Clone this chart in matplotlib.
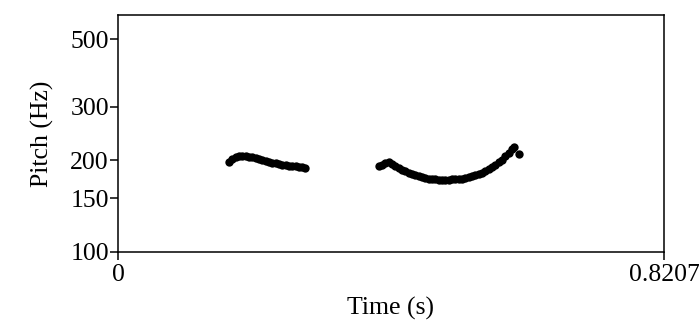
import matplotlib.pyplot as plt
from matplotlib.ticker import FixedLocator, NullLocator

# pitch track, two voiced stretches (time in s, F0 in Hz)
t1 = [0.167, 0.172, 0.177, 0.182, 0.187, 0.192, 0.197, 0.202, 0.207, 0.212,
      0.217, 0.222, 0.227, 0.232, 0.237, 0.242, 0.247, 0.252, 0.257, 0.262,
      0.267, 0.272, 0.277, 0.281]
f1 = [197, 202, 205, 207, 207, 206, 205, 204.5, 203.5, 202,
      200.5, 199, 197.5, 196.5, 195.5, 194.5, 193.5, 192.5, 192, 191.5,
      191, 190.5, 190, 189]

t2 = [0.392, 0.397, 0.402, 0.407, 0.412, 0.417, 0.422, 0.427, 0.432, 0.437,
      0.442, 0.447, 0.452, 0.457, 0.462, 0.467, 0.472, 0.477, 0.482, 0.487,
      0.492, 0.497, 0.502, 0.507, 0.512, 0.517, 0.522, 0.527, 0.532, 0.537,
      0.542, 0.547, 0.552, 0.557, 0.562, 0.567, 0.572, 0.577, 0.582, 0.587,
      0.592, 0.595, 0.603]
f2 = [191, 193, 195.5, 197, 195, 192, 189, 186.5, 184, 182,
      180, 178.5, 177, 176, 175, 174, 173.5, 173, 172.5, 172.5,
      172.5, 172.5, 173, 173, 173.5, 174, 175, 176, 177, 178.5,
      180, 182, 184, 187, 190, 193, 197, 201, 206, 212,
      218, 221, 210]

xmin, xmax = 0, 0.8207
ymin, ymax = 100, 600
yticks = [100, 150, 200, 300, 500]

plt.rcParams['font.family'] = 'Liberation Serif'

fig = plt.figure(figsize=(6.99, 3.21), dpi=100)
ax = fig.add_axes([0.1688, 0.2150, 0.7811, 0.7383])

for t, f in [(t1, f1), (t2, f2)]:
    ax.plot(t, f, 'o', color='black', ms=6, mew=0)

ax.set_yscale('log')
ax.set_xlim(xmin, xmax)
ax.set_ylim(ymin, ymax)
ax.yaxis.set_major_locator(FixedLocator(yticks))
ax.yaxis.set_minor_locator(NullLocator())
ax.set_yticklabels([str(v) for v in yticks])
ax.set_xticks([xmin, xmax])
ax.set_xticklabels(['0', '0.8207'])

for s in ax.spines.values():
    s.set_linewidth(1.1)
ax.tick_params(axis='both', direction='out', length=6, width=1.1,
               labelsize=18.5, pad=0.5)
ax.tick_params(axis='x', pad=2.5)
ax.set_xlabel('Time (s)', fontsize=18.5, labelpad=8)
ax.set_ylabel('Pitch (Hz)', fontsize=18.5, labelpad=12)

fig.savefig('out.png', dpi=100)
